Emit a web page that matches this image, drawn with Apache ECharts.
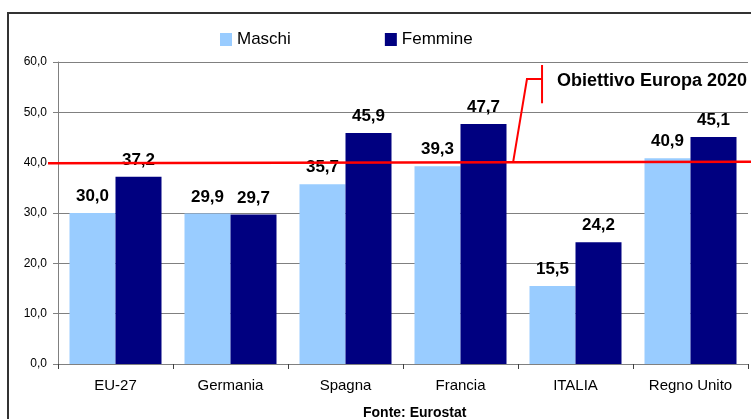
<!DOCTYPE html>
<html>
<head>
<meta charset="utf-8">
<script src="https://cdn.jsdelivr.net/npm/echarts@6/dist/echarts.min.js"></script>
<style>html,body{margin:0;padding:0;background:#fff;}#c{width:751px;height:419px;}</style>
</head>
<body>
<div id="c"></div>
<script>
const categories = ['EU-27', 'Germania', 'Spagna', 'Francia', 'ITALIA', 'Regno Unito'];
const maschi = [30.0, 29.9, 35.7, 39.3, 15.5, 40.9];
const femmine = [37.2, 29.7, 45.9, 47.7, 24.2, 45.1];
const seriesNames = ['Maschi', 'Femmine'];
const target = 40;
const targetLabel = 'Obiettivo Europa 2020';
const sourceLabel = 'Fonte: Eurostat';
const yTicks = [0, 10, 20, 30, 40, 50, 60];

const FONT = '"Liberation Sans", Arial, sans-serif';
const fmt = v => Number(v).toFixed(1).replace('.', ',');

const chart = echarts.init(document.getElementById('c'), null, {renderer: 'canvas'});
const labelStyle = {show: true, position: 'top', distance: 8, formatter: p => fmt(p.value),
  fontFamily: FONT, fontSize: 17, fontWeight: 'bold', color: '#000'};

chart.setOption({
  animation: false,
  backgroundColor: '#fff',
  legend: {
    left: 215, top: 26, itemWidth: 12, itemHeight: 13, itemGap: 94,
    icon: 'rect',
    textStyle: {fontFamily: FONT, fontSize: 17, color: '#000'},
    data: seriesNames
  },
  grid: {left: 58, right: 3, top: 62, bottom: 55, containLabel: false},
  xAxis: {
    type: 'category', data: categories,
    axisLine: {lineStyle: {color: '#808080', width: 1}},
    axisTick: {show: true, length: 5, alignWithLabel: false, lineStyle: {color: '#404040'}},
    axisLabel: {fontFamily: FONT, fontSize: 15, color: '#000', margin: 14}
  },
  yAxis: {
    type: 'value', min: yTicks[0], max: yTicks[yTicks.length - 1], interval: 10,
    axisLine: {show: true, lineStyle: {color: '#808080'}},
    axisTick: {show: true, length: 5, lineStyle: {color: '#808080'}},
    axisLabel: {fontFamily: FONT, fontSize: 12, color: '#000', margin: 11, formatter: v => fmt(v)},
    splitLine: {show: true, lineStyle: {color: '#808080', width: 1}}
  },
  series: [
    {name: seriesNames[0], type: 'bar', data: maschi, barGap: '0%', barCategoryGap: '20%',
      itemStyle: {color: '#99CCFF'}, label: labelStyle},
    {name: seriesNames[1], type: 'bar', data: femmine, barGap: '0%', barCategoryGap: '20%',
      itemStyle: {color: '#000080'}, label: labelStyle}
  ]
});

function px(idx, val) { return chart.convertToPixel({seriesIndex: 0}, [idx, val]); }
function xAt(pos) { // pos: fractional category position
  const i = Math.floor(pos), f = pos - i;
  const a = px(i, 0)[0], b = px(i + 1, 0)[0];
  return a + (b - a) * f;
}
function yAt(v) { return px(0, v)[1]; }

const left0 = px(0, 0)[0] - (px(1, 0)[0] - px(0, 0)[0]) / 2;
const yT = yAt(target);
const RED = '#FF0000';
const sx = xAt(3.457), tx = xAt(3.578), bx = xAt(3.709);
chart.setOption({
  graphic: [
    {type: 'rect', z: 100, silent: true, shape: {x: 8, y: 13, width: 800, height: 500},
      style: {fill: 'none', stroke: '#333', lineWidth: 2}},
    {type: 'line', z: 100, shape: {x1: left0 - 10, y1: yT + 0.5, x2: 751, y2: yT - 1},
      style: {stroke: RED, lineWidth: 2.5}},
    {type: 'polyline', z: 100, shape: {points: [[sx, yT], [tx, yAt(56.6)], [bx, yAt(56.6)]]},
      style: {stroke: RED, lineWidth: 2, fill: null}},
    {type: 'line', z: 100, shape: {x1: bx, y1: yAt(59.4), x2: bx, y2: yAt(51.8)},
      style: {stroke: RED, lineWidth: 2}},
    {type: 'text', z: 100, x: xAt(3.839), y: yAt(56.3),
      style: {text: targetLabel, font: 'bold 18px ' + FONT, fill: '#000', textVerticalAlign: 'middle', verticalAlign: 'middle'}},
    {type: 'text', z: 100, x: 363, y: 413,
      style: {text: sourceLabel, font: 'bold 14px ' + FONT, fill: '#000', verticalAlign: 'middle', textVerticalAlign: 'middle'}}
  ]
});
</script>
</body>
</html>
